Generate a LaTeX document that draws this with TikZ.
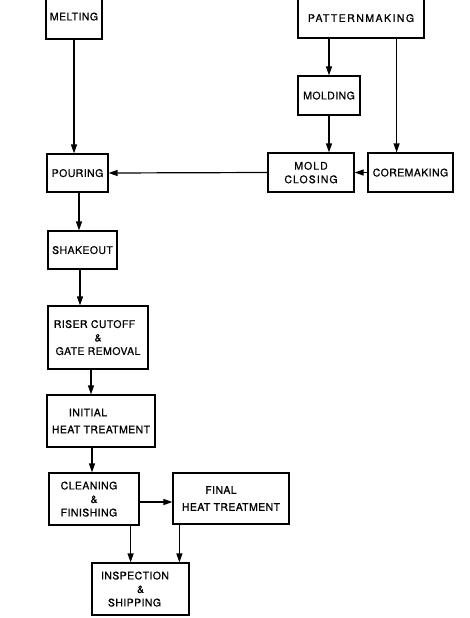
\documentclass[tikz,border=0pt]{standalone}
\usepackage{fontspec}
\setmainfont{TeX Gyre Heros}[LetterSpace=4, FakeBold=0.8]
\usetikzlibrary{arrows.meta}
\tikzset{
  box/.style={draw, line width=1.2pt, inner sep=0pt, align=center,
    font=\fontsize{10.5}{13.5}\selectfont, text depth=0pt},
  flow/.style={line width=1.2pt, -{Triangle[length=9pt,width=6pt]}},
}
\begin{document}
\begin{tikzpicture}[x=1pt,y=-1pt]
\useasboundingbox (0,0) rectangle (470,618);
\node[box, minimum width=56pt, minimum height=45pt] (melt) at (74,16.5) {MELTING};
\node[box, minimum width=126pt, minimum height=44pt] (pattern) at (361,16) {\raisebox{-4pt}{\addfontfeature{LetterSpace=14}PATTERNMAKING}};
\node[box, minimum width=62pt, minimum height=39pt] (molding) at (329,95.5) {MOLDING};
\node[box, minimum width=61pt, minimum height=38pt] (pour) at (77.5,173) {POURING};
\node[box, minimum width=86pt, minimum height=39pt, font=\fontsize{10.5}{13.5}\selectfont\addfontfeature{LetterSpace=10}] (mclose) at (311,172.5) {MOLD\\CLOSING};
\node[box, minimum width=85pt, minimum height=39pt] (core) at (410.5,172.5) {COREMAKING};
\node[box, minimum width=69pt, minimum height=38pt] (shake) at (82.5,250) {SHAKEOUT};
\node[box, minimum width=100pt, minimum height=63pt] (riser) at (98,337.5) {RISER CUTOFF\hspace*{7pt}\\\&\hspace*{14pt}\\GATE REMOVAL};
\node[box, minimum width=108pt, minimum height=52pt, font=\fontsize{10.5}{17}\selectfont] (initial) at (101,421) {INITIAL\hspace*{26pt}\\HEAT TREATMENT};
\node[box, minimum width=90pt, minimum height=52pt] (clean) at (94,499) {CLEANING\hspace*{10pt}\\\&\hspace*{2pt}\\FINISHING\hspace*{10pt}};
\node[box, minimum width=116pt, minimum height=51pt, font=\fontsize{10.5}{17}\selectfont] (final) at (231,498.5) {FINAL\hspace*{20pt}\\HEAT TREATMENT};
\node[box, minimum width=97pt, minimum height=52pt] (insp) at (140.5,589) {INSPECTION\hspace*{11pt}\\\&\hspace*{7pt}\\SHIPPING\hspace*{12pt}};

\draw[flow] (melt.south) -- (melt.south |- pour.north);
\draw[flow] (pattern.south -| molding.north) -- (molding.north);
\draw[flow] ([xshift=-28pt]pattern.south east) -- ([xshift=-28pt]pattern.south east |- core.north);
\draw[flow] (molding.south) -- (molding.south |- mclose.north);
\draw[flow] (core.west) -- (mclose.east);
\draw[flow] (mclose.west) -- (pour.east);
\draw[flow] ([xshift=1.5pt]pour.south) -- ([xshift=1.5pt]pour.south |- shake.north);
\draw[flow] ([xshift=-2.5pt]shake.south) -- ([xshift=-2.5pt]shake.south |- riser.north);
\draw[flow] ([xshift=-7pt]riser.south) -- ([xshift=-7pt]riser.south |- initial.north);
\draw[flow] ([xshift=-9pt]initial.south) -- ([xshift=-9pt]initial.south |- clean.north);
\draw[flow] ([yshift=-3pt]clean.east) -- ([yshift=-3pt]clean.east -| final.west);
\draw[flow] ([xshift=-9pt]clean.south east) -- ([xshift=-9pt]clean.south east |- insp.north);
\draw[flow] ([xshift=7pt]final.south west) -- ([xshift=7pt]final.south west |- insp.north);
\end{tikzpicture}
\end{document}
